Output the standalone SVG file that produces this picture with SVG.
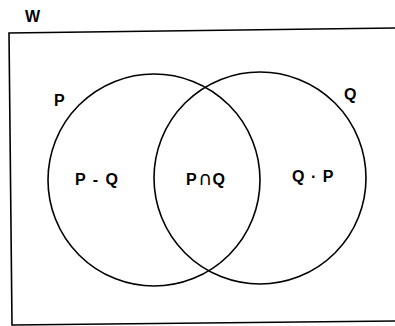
<svg xmlns="http://www.w3.org/2000/svg" width="395" height="326" viewBox="0 0 395 326">
<style>
.ln{fill:none;stroke:#000;stroke-width:1.6}
.t{font-family:"Liberation Sans",Arial,sans-serif;font-weight:bold;font-size:16px;fill:#000}
.cap{font-family:"DejaVu Sans",sans-serif;font-weight:normal;font-size:19px}
</style>
<rect width="395" height="326" fill="#fff"/>
<g id="universe">
<path class="ln" d="M395,28 L9,33 L12,325 L395,321"/>
<text class="t" x="25" y="22" font-size="17">W</text>
</g>
<g id="connectors"></g>
<g id="setP">
<circle class="ln" cx="154" cy="180" r="106"/>
<text class="t" x="54" y="106">P</text>
</g>
<g id="setQ">
<circle class="ln" cx="260" cy="178" r="106"/>
<text class="t" x="344" y="100">Q</text>
</g>
<g id="regions">
<text class="t" x="75" y="185" letter-spacing="1.5">P - Q</text>
<text class="t" x="186" y="185" letter-spacing="0.5">P<tspan class="cap" dx="1">∩</tspan>Q</text>
<text class="t" x="292" y="182" letter-spacing="1">Q · P</text>
</g>
</svg>
